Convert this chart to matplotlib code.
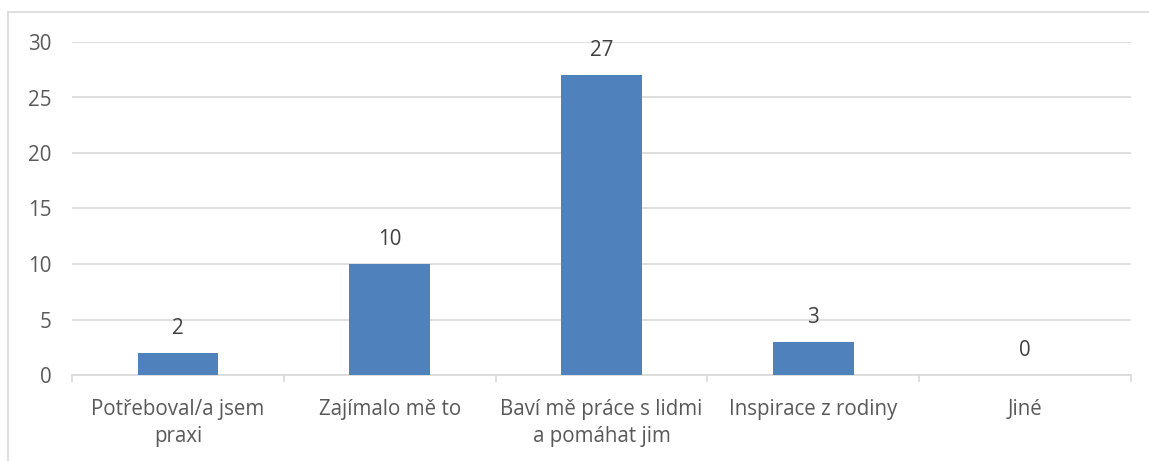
import numpy as np
import matplotlib.pyplot as plt
from matplotlib.patches import Rectangle

categories = ['Potřeboval/a jsem\npraxi', 'Zajímalo mě to', 'Baví mě práce s lidmi\na pomáhat jim',
              'Inspirace z rodiny', 'Jiné']
values = [2, 10, 27, 3, 0]
yticks = [0, 5, 10, 15, 20, 25, 30]

plt.rcParams['font.family'] = ['Open Sans', 'DejaVu Sans']
fs = 14.8

fig = plt.figure(figsize=(11.49, 4.61), dpi=100)
ax = fig.add_axes([72 / 1149, 1 - 375 / 461, (1131 - 72) / 1149, (375 - 42) / 461])

# outer chart border (cut off at right/bottom like the reference)
fig.patches.append(Rectangle((7.5 / 1149, -0.1), 1.2, 1.1 - 12.5 / 461, transform=fig.transFigure,
                             fill=False, edgecolor='#d9d9d9', linewidth=1.2))

x = np.arange(len(categories))
bars = ax.bar(x, values, width=0.38, color='#4f81bd', zorder=3)
for xi, v in zip(x, values):
    ax.text(xi, v + 2.2, str(v), ha='center', va='center', fontsize=fs, color='#404040')

ax.set_xlim(-0.5, len(categories) - 0.5)
ax.set_ylim(0, 30)
ax.set_yticks(yticks)
ax.yaxis.grid(True, color='#d9d9d9', linewidth=1.2, zorder=0)
ax.tick_params(axis='y', length=0, pad=15, labelsize=fs, labelcolor='#595959')

ax.set_xticks(x)
ax.set_xticklabels(categories, fontsize=fs, color='#595959', linespacing=1.42)
ax.tick_params(axis='x', length=0, pad=17)
ax.set_xticks(np.arange(-0.5, len(categories)), minor=True)
ax.tick_params(axis='x', which='minor', length=5, color='#d9d9d9', width=1.2)

for side in ['top', 'right', 'left']:
    ax.spines[side].set_visible(False)
ax.spines['bottom'].set_color('#d9d9d9')
ax.spines['bottom'].set_linewidth(1.2)

fig.savefig('out.png', dpi=100)
